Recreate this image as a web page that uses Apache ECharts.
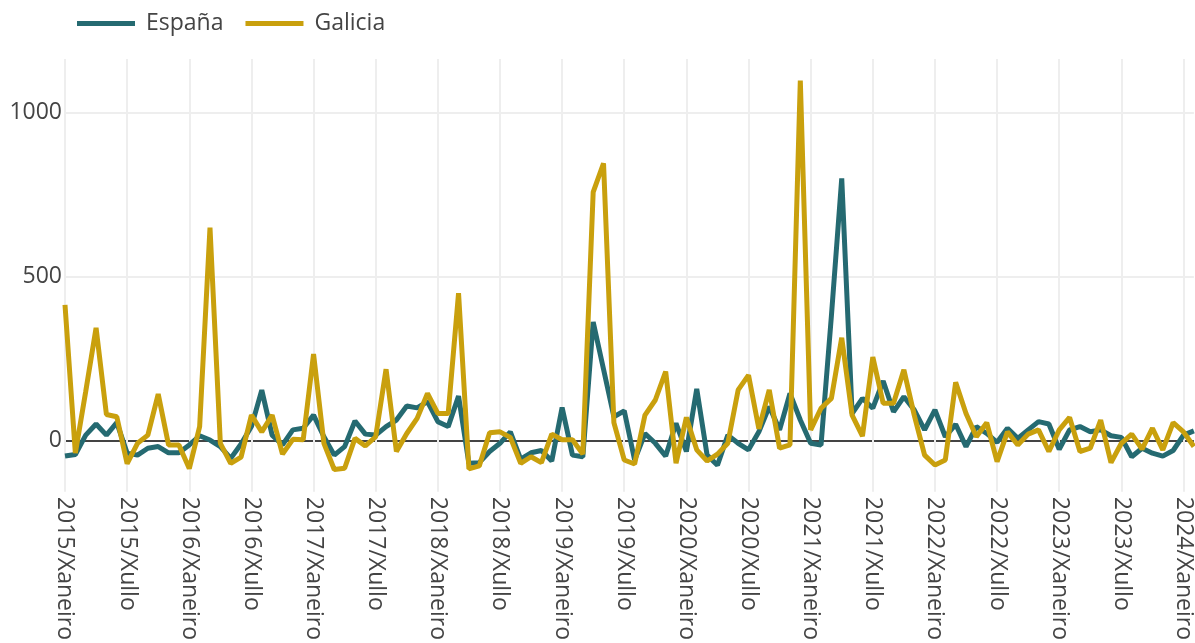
<!DOCTYPE html>
<html>
<head>
<meta charset="utf-8">
<script src="https://cdn.jsdelivr.net/npm/echarts@6/dist/echarts.min.js"></script>
<style>
html,body{margin:0;padding:0;background:#fff;}
#chart{width:1195px;height:643px;}
</style>
</head>
<body>
<div id="chart"></div>
<script>
const years = [2015,2016,2017,2018,2019,2020,2021,2022,2023,2024];
const monthNames = ['Xaneiro','Febreiro','Marzo','Abril','Maio','Xuño','Xullo','Agosto','Setembro','Outubro','Novembro','Decembro'];
const seriesNames = ['España','Galicia'];
const yTickValues = [0, 500, 1000];

const espana = [
  -47,-42,17,51,17,55,-38,-44,-23,-18,-37,-37,
  -13,15,2,-18,-54,-10,43,154,17,-13,33,38,
  78,12,-44,-18,60,20,17,43,63,106,100,119,
  58,43,136,-69,-67,-33,-8,27,-56,-37,-30,-62,
  101,-44,-49,362,218,73,91,-59,22,-8,-47,53,
  -33,158,-44,-75,17,-8,-28,27,104,33,144,63,
  -8,-13,380,800,83,129,99,182,88,134,94,33,
  94,12,50,-18,43,22,-5,38,7,33,58,51,
  -26,33,43,27,33,15,10,-49,-23,-38,-47,-30,
  17,30
];
const galicia = [
  414,-38,150,344,80,73,-70,-8,17,142,-13,-13,
  -85,43,650,-8,-69,-50,78,27,78,-41,4,3,
  264,-8,-88,-84,7,-16,12,218,-33,22,68,144,
  83,83,450,-86,-77,24,27,10,-69,-49,-67,20,
  3,3,-41,758,846,55,-59,-71,78,124,211,-69,
  71,-28,-62,-41,-8,155,200,36,155,-23,-13,1098,
  33,99,129,314,78,14,255,114,114,216,78,-44,
  -74,-59,178,83,12,55,-64,27,-13,20,33,-33,
  33,71,-33,-23,63,-67,-8,20,-26,38,-28,55,
  27,-18
];

const categories = [];
for (const y of years) {
  for (const m of monthNames) {
    if (categories.length < espana.length) categories.push(y + '/' + m);
  }
}

const chart = echarts.init(document.getElementById('chart'), null, {renderer:'canvas'});
const font = "'Open Sans', sans-serif";
chart.setOption({
  animation: false,
  backgroundColor: '#ffffff',
  color: ['#256a71', '#c9a00d'],
  textStyle: {fontFamily: font},
  legend: {
    left: 72, top: 7,
    icon: 'rect',
    itemWidth: 58, itemHeight: 5,
    itemGap: 22,
    textStyle: {fontSize: 23, color: '#444', fontFamily: font, padding: [0,0,0,6]},
    data: seriesNames
  },
  grid: {left: 65, right: 0, top: 59, bottom: 151, containLabel: false},
  xAxis: {
    type: 'category',
    data: categories,
    boundaryGap: false,
    axisLine: {show: false, onZero: false},
    axisTick: {show: false},
    axisLabel: {interval: 5, rotate: -90, fontSize: 23, color: '#444', margin: 5, fontFamily: font},
    splitLine: {show: true, interval: 5, lineStyle: {color: '#eeeeee', width: 2}}
  },
  yAxis: {
    type: 'value',
    min: -156, max: 1164,
    axisLine: {show: false},
    axisTick: {show: false, customValues: yTickValues},
    axisLabel: {customValues: yTickValues, fontSize: 23, color: '#444', margin: 3, fontFamily: font,
      formatter: function (v) { return String(v); }},
    splitLine: {show: true, lineStyle: {color: ['#444444', '#eeeeee', '#eeeeee'], width: 2}}
  },
  series: [
    {name: seriesNames[0], type: 'line', data: espana, symbol: 'none', lineStyle: {width: 5}, z: 2},
    {name: seriesNames[1], type: 'line', data: galicia, symbol: 'none', lineStyle: {width: 5}, z: 3}
  ]
});
</script>
</body>
</html>
